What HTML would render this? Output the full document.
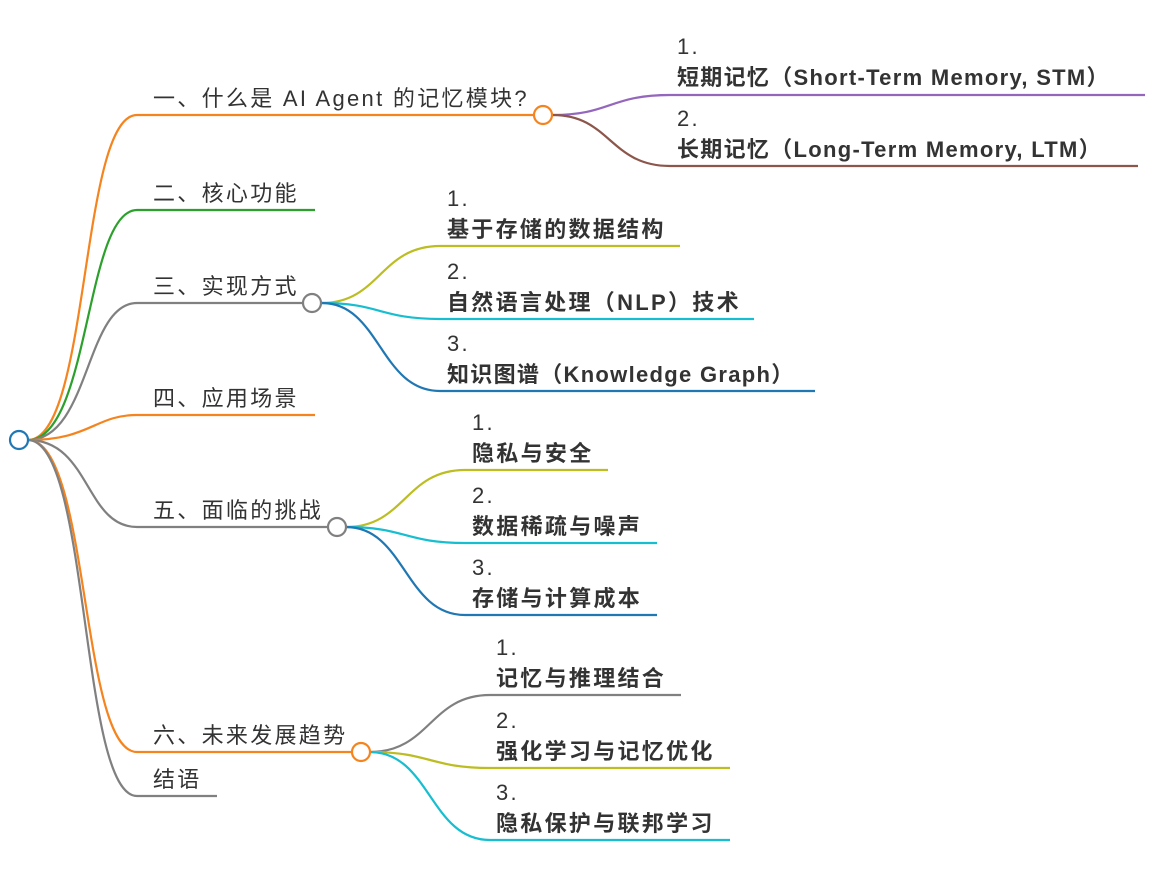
<!DOCTYPE html>
<html><head><meta charset="utf-8"><style>
html,body{margin:0;padding:0;background:#fff;width:1164px;height:896px;overflow:hidden}
text{font-family:"Liberation Sans","Noto Sans CJK SC",sans-serif;fill:#333;font-size:22px;letter-spacing:2.3px}
.b{font-weight:bold}
.l{letter-spacing:1.3px}
</style></head><body>
<svg width="1164" height="896" xmlns="http://www.w3.org/2000/svg" fill="none" stroke-width="2.2">
<path d="M28 440 C90 440 80 115 137 115 H543" stroke="#f5841f"/>
<path d="M28 440 C90 440 85 210 137 210 H315" stroke="#2ca02c"/>
<path d="M28 440 C90 440 85 303 137 303 H303" stroke="#808080"/>
<path d="M28 440 C90 440 95 415 137 415 H315" stroke="#f5841f"/>
<path d="M28 440 C90 440 85 527 137 527 H328" stroke="#808080"/>
<path d="M28 440 C90 440 80 752 137 752 H352" stroke="#f5841f"/>
<path d="M28 440 C90 440 80 796 137 796 H217" stroke="#808080"/>
<path d="M553 115 C610 115 610 95 670 95 H1145" stroke="#9467bd"/>
<path d="M553 115 C610 115 610 166 670 166 H1138" stroke="#8c564b"/>
<path d="M322 303 C380 303 380 246 440 246 H680" stroke="#bcbd22"/>
<path d="M322 303 C380 303 380 319 440 319 H754" stroke="#17becf"/>
<path d="M322 303 C380 303 380 391 440 391 H815" stroke="#1f77b4"/>
<path d="M346 527 C405 527 405 470 465 470 H608" stroke="#bcbd22"/>
<path d="M346 527 C405 527 405 543 465 543 H657" stroke="#17becf"/>
<path d="M346 527 C405 527 405 615 465 615 H657" stroke="#1f77b4"/>
<path d="M370 752 C430 752 430 695 490 695 H681" stroke="#808080"/>
<path d="M370 752 C430 752 430 768 490 768 H730" stroke="#bcbd22"/>
<path d="M370 752 C430 752 430 840 490 840 H730" stroke="#17becf"/>
<circle cx="19" cy="440" r="9" fill="#fff" stroke="#1f77b4"/>
<circle cx="543" cy="115" r="9" fill="#fff" stroke="#f5841f"/>
<circle cx="312" cy="303" r="9" fill="#fff" stroke="#808080"/>
<circle cx="337" cy="527" r="9" fill="#fff" stroke="#808080"/>
<circle cx="361" cy="752" r="9" fill="#fff" stroke="#f5841f"/>
<g stroke="none">
<text x="153" y="106">一、什么是 AI Agent 的记忆模块?</text>
<text x="153" y="201">二、核心功能</text>
<text x="153" y="294">三、实现方式</text>
<text x="153" y="406">四、应用场景</text>
<text x="153" y="518">五、面临的挑战</text>
<text x="153" y="743">六、未来发展趋势</text>
<text x="153" y="787">结语</text>
<text x="677" y="54">1.</text><text x="677" y="85" class="b l">短期记忆（Short-Term Memory, STM）</text>
<text x="677" y="126">2.</text><text x="677" y="157" class="b l">长期记忆（Long-Term Memory, LTM）</text>
<text x="447" y="206">1.</text><text x="447" y="237" class="b">基于存储的数据结构</text>
<text x="447" y="279">2.</text><text x="447" y="310" class="b">自然语言处理（NLP）技术</text>
<text x="447" y="351">3.</text><text x="447" y="382" class="b l">知识图谱（Knowledge Graph）</text>
<text x="472" y="430">1.</text><text x="472" y="461" class="b">隐私与安全</text>
<text x="472" y="503">2.</text><text x="472" y="534" class="b">数据稀疏与噪声</text>
<text x="472" y="575">3.</text><text x="472" y="606" class="b">存储与计算成本</text>
<text x="496" y="655">1.</text><text x="496" y="686" class="b">记忆与推理结合</text>
<text x="496" y="728">2.</text><text x="496" y="759" class="b">强化学习与记忆优化</text>
<text x="496" y="800">3.</text><text x="496" y="831" class="b">隐私保护与联邦学习</text>
</g>
</svg>
</body></html>
